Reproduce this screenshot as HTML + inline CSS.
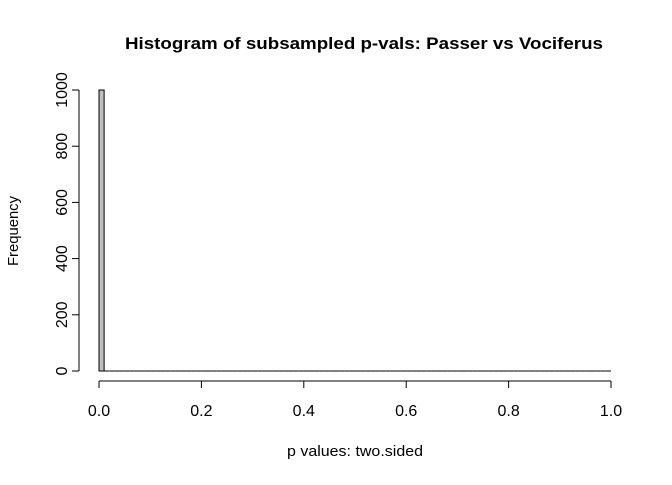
<!DOCTYPE html>
<html><head><style>
body{margin:0;background:#fff}
svg text{font-family:"Liberation Sans",Arial,sans-serif;fill:#000}
</style></head><body>
<svg id="c" width="672" height="480">
<text x="364" y="49" font-size="17" font-weight="bold" text-anchor="middle" textLength="478" lengthAdjust="spacingAndGlyphs">Histogram of subsampled p-vals: Passer vs Vociferus</text>
<text x="355" y="456" font-size="15" text-anchor="middle" textLength="136" lengthAdjust="spacingAndGlyphs">p values: two.sided</text>
<text transform="translate(18,231) rotate(-90)" font-size="15" text-anchor="middle" textLength="70" lengthAdjust="spacingAndGlyphs">Frequency</text>
<g id="bars"></g><g id="xax"></g><g id="yax"></g>
</svg>
<script>
const binCounts=[1000].concat(new Array(99).fill(0));
const binWidth=0.01;
const xTicks=[0,0.2,0.4,0.6,0.8,1.0];
const xTickLabels=["0.0","0.2","0.4","0.6","0.8","1.0"];
const yTicks=[0,200,400,600,800,1000];
const NS="http://www.w3.org/2000/svg";
const X=v=>99+v*512, Y=v=>371-v*0.281;
function mk(t,a,p){const e=document.createElementNS(NS,t);for(const k in a)e.setAttribute(k,a[k]);p.appendChild(e);return e;}
const bars=document.getElementById('bars');
binCounts.forEach((c,i)=>{
 const x0=X(i*binWidth),x1=X((i+1)*binWidth),y0=Y(0),y1=Y(c);
 const r=mk('path',{d:`M${x0},${y0}L${x0},${y1}L${x1},${y1}L${x1},${y0}Z`,fill:'#bebebe',stroke:'#000','stroke-width':1},bars);
 
 
});
const xa=document.getElementById('xax');
mk('line',{x1:X(0),x2:X(1),y1:381,y2:381,stroke:'#000'},xa);
xTicks.forEach((v,i)=>{
 mk('line',{x1:X(v),x2:X(v),y1:381,y2:388,stroke:'#000'},xa);
 const t=mk('text',{x:X(v),y:416,'font-size':16,'text-anchor':'middle'},xa);t.textContent=xTickLabels[i];
 
 
});
const ya=document.getElementById('yax');
mk('line',{x1:79,x2:79,y1:Y(0),y2:Y(1000),stroke:'#000'},ya);
yTicks.forEach(v=>{
 mk('line',{x1:72,x2:79,y1:Y(v),y2:Y(v),stroke:'#000'},ya);
 const t=mk('text',{transform:`translate(67,${Y(v)}) rotate(-90)`,'font-size':16,'text-anchor':'middle'},ya);t.textContent=v;
 
 
});
</script>
</body></html>
